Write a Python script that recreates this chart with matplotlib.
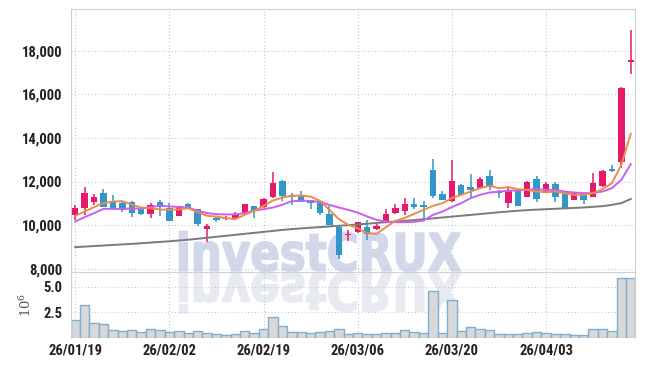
import os
import numpy as np
import matplotlib
matplotlib.use('Agg')
import matplotlib.pyplot as plt
from matplotlib import font_manager
from matplotlib.font_manager import FontProperties
from matplotlib.textpath import TextPath
from matplotlib.patches import PathPatch
import matplotlib.transforms as mtransforms

# Daily candles (KRW)
opens = [10465, 10774, 11078, 11480, 11080, 11030, 11080, 10775, 10510, 11080,
         10800, 10430, 10970, 10740, 9806, 10340, 10300, 10340, 10500, 10880,
         10820, 11310, 12030, 11390, 11355, 11140, 11110, 10510, 9926, 9530,
         9668, 9899, 9806, 10111, 10544, 10664, 10972, 10926, 12539, 11433,
         11124, 11848, 11742, 11696, 12263, 11571, 11032, 11560, 11309, 12124,
         11539, 11894, 11557, 11157, 11433, 11309, 11816, 12553, 12876, 17500]
closes = [10774, 11465, 11295, 10850, 10800, 10700, 10570, 10510, 10925, 10820,
          10200, 10880, 10775, 10050, 9959, 10235, 10320, 10465, 10970, 10650,
          11200, 11955, 11355, 11310, 11080, 11005, 10545, 10005, 8622, 9560,
          10129, 9590, 9959, 10512, 10788, 10972, 10834, 10820, 11355, 11157,
          12032, 11387, 11618, 12111, 11802, 11465, 11618, 10890, 11986, 11203,
          11894, 11309, 10802, 11511, 11157, 11926, 12493, 12493, 16304, 17560]
highs = [10940, 11742, 11420, 11650, 11370, 11100, 11125, 10800, 11005, 11160,
         11030, 10900, 11000, 10760, 10050, 10420, 10420, 10620, 10990, 10900,
         11260, 12430, 12060, 11465, 11570, 11170, 11130, 10880, 9950, 9774,
         10150, 10235, 10050, 10728, 10972, 11235, 11263, 11124, 13032, 11570,
         12968, 11900, 12355, 12230, 12507, 11600, 11802, 11660, 12010, 12263,
         12000, 12000, 11580, 11540, 11450, 12387, 12539, 12770, 16330, 18959]
lows = [10235, 10470, 10930, 10820, 10780, 10600, 10390, 10450, 10340, 10420,
        10180, 10400, 10750, 9970, 9207, 10150, 10250, 10320, 10480, 10310,
        10800, 11250, 11110, 10925, 11060, 10755, 10450, 9990, 8424, 9267,
        9650, 9313, 9790, 10090, 10530, 10470, 10760, 10235, 11235, 11130,
        11078, 11360, 11235, 11650, 11618, 11235, 10774, 10870, 11290, 11051,
        11520, 11078, 10728, 11140, 10972, 11290, 11760, 12450, 12617, 16917]

# moving averages
ma_short = [10426, 10623, 10825, 11009, 11082, 11100, 10944, 10807, 10779, 10720,
            10700, 10720, 10779, 10595, 10426, 10394, 10320, 10274, 10472, 10655,
            10885, 11128, 11266, 11344, 11357, 11311, 11114, 10701, 10274, 10012,
            9861, 9631, 9599, 9907, 10196, 10330, 10520, 10701, 10885, 11009,
            11240, 11390, 11541, 11697, 11803, 11697, 11743, 11650, 11619, 11541,
            11513, 11541, 11468, 11390, 11390, 11468, 11651, 11927, 12767, 14190]
ma_mid = [10164, 10366, 10550, 10747, 10747, 10747, 10760, 10760, 10825, 10885,
          10860, 10830, 10807, 10655, 10550, 10504, 10490, 10490, 10550, 10669,
          10733, 10807, 10930, 11100, 11120, 11110, 11060, 10930, 10807, 10700,
          10570, 10400, 10240, 10160, 10136, 10136, 10150, 10210, 10472, 10623,
          10825, 11009, 11238, 11390, 11495, 11541, 11573, 11600, 11619, 11651,
          11619, 11619, 11541, 11495, 11468, 11468, 11541, 11697, 12078, 12799]
ma_long = [8990, 9015, 9040, 9065, 9090, 9115, 9140, 9170, 9200, 9230,
           9260, 9295, 9330, 9375, 9420, 9465, 9510, 9555, 9600, 9645,
           9690, 9735, 9780, 9820, 9850, 9880, 9910, 9940, 9970, 10000,
           10030, 10065, 10100, 10135, 10165, 10200, 10230, 10270, 10310, 10350,
           10390, 10430, 10470, 10510, 10550, 10590, 10625, 10660, 10690, 10710,
           10730, 10750, 10770, 10790, 10810, 10840, 10870, 10930, 11010, 11200]

# volume in millions of shares
volume_m = [1.72, 3.18, 1.42, 1.33, 0.74, 0.67, 0.74, 0.54, 0.84, 0.74,
            0.58, 0.64, 0.45, 0.64, 0.45, 0.35, 0.25, 0.35, 0.64, 0.45,
            0.84, 2.01, 1.13, 0.54, 0.54, 0.45, 0.58, 0.67, 0.84, 0.35,
            0.45, 0.35, 0.35, 0.45, 0.45, 0.74, 0.58, 0.45, 4.55, 0.45,
            3.67, 0.64, 1.03, 0.84, 0.74, 0.35, 0.35, 0.35, 0.45, 0.58,
            0.45, 0.35, 0.35, 0.25, 0.25, 0.84, 0.84, 0.64, 5.82, 5.82]

tick_pos = [0, 10, 20, 30, 40, 50]
tick_labels = ['26/01/19', '26/02/02', '26/02/19', '26/03/06', '26/03/20', '26/04/03']

UP = '#e6196b'
DOWN = '#2f97c9'
GRID = '#c6c9db'
SPINE = '#d0d0d0'


def pick_font():
    # prefer a narrow bold face for the axis labels
    prefs = ['RobotoCondensed-Bold', 'RobotoCondensed-SemiBold', 'RobotoCondensed-Medium',
             'LiberationSansNarrow-Bold', 'DejaVuSansCondensed-Bold']
    files = [f.fname for f in font_manager.fontManager.ttflist]
    for p in prefs:
        for fn in files:
            if os.path.basename(fn).startswith(p):
                return FontProperties(fname=fn, size=10.5)
    return FontProperties(family='Roboto', weight='bold', size=9)


tick_font = pick_font()

x = np.arange(len(opens))
o = np.array(opens); c = np.array(closes)
colors = [UP if cc >= oo else DOWN for oo, cc in zip(o, c)]

fig = plt.figure(figsize=(6.45, 3.66), dpi=100)
L, W = 71 / 645, 564 / 645
ax = fig.add_axes([L, 94 / 366, W, 262.7 / 366])
axv = fig.add_axes([L, 28 / 366, W, 66 / 366], sharex=ax)
for a in (ax, axv):
    a.set_facecolor('none')
    a.set_axisbelow(True)
    a.tick_params(length=0, colors='#222222')

# watermark with its reflection
tp = TextPath((0, 0), 'investCRUX', size=100, prop=FontProperties(family='DejaVu Sans', weight='bold'))
ext = tp.get_extents()
sx, sy = 2.81 / ext.width, 0.40 / ext.height
base = mtransforms.Affine2D().translate(-ext.x0, -ext.y0)
t_main = base + mtransforms.Affine2D().scale(sx, sy).translate(1.795, 0.945) + fig.dpi_scale_trans
t_refl = base + mtransforms.Affine2D().scale(sx, -sy).translate(1.795, 0.935) + fig.dpi_scale_trans
fig.add_artist(PathPatch(tp, transform=t_main, facecolor='#d2d8ea', edgecolor='#d2d8ea', lw=1.2, zorder=-1))
fig.add_artist(PathPatch(tp, transform=t_refl, facecolor='#e8eaf1', edgecolor='#e8eaf1', lw=1.2, zorder=-1))

# candles
ax.vlines(x, lows, highs, colors=colors, lw=1.1, zorder=2)
body = np.maximum(np.abs(c - o), 45)
ax.bar(x, body, bottom=np.minimum(o, c), width=0.68, color=colors, zorder=3)

ax.plot(x, ma_long, color='#7a7a7a', lw=1.4, zorder=4)
ax.plot(x, ma_mid, color='#c95ff0', lw=1.4, zorder=4)
ax.plot(x, ma_short, color='#f08a4b', lw=1.4, zorder=4)

ax.set_xlim(-0.45, 59.45)
ax.set_ylim(7850, 19900)
ax.set_yticks(range(8000, 18001, 2000))
ax.set_yticklabels([f'{v:,}' for v in range(8000, 18001, 2000)])
ax.grid(True, color=GRID, linestyle=(0, (1, 2)), lw=0.8)
ax.tick_params(axis='x', labelbottom=False)
ax.tick_params(axis='y', pad=6)
for s in ('left', 'top', 'right', 'bottom'):
    ax.spines[s].set_color(SPINE)

# volume
axv.bar(x, volume_m, width=1.0, color='#d8d8d8', edgecolor='#7cafd4', lw=1, zorder=2)
axv.set_ylim(0, 6.43)
axv.set_yticks([2.5, 5.0])
axv.set_yticklabels(['2.5', '5.0'])
axv.set_xticks(tick_pos)
axv.set_xticklabels(tick_labels)
axv.grid(True, color=GRID, linestyle=(0, (1, 2)), lw=0.8)
axv.tick_params(axis='y', pad=6)
axv.tick_params(axis='x', pad=4)
axv.spines['top'].set_visible(False)
axv.spines['bottom'].set_visible(False)
axv.spines['left'].set_color(SPINE)
axv.spines['right'].set_color(SPINE)
axv.set_ylabel(r'$10^6$', color='#555555', fontsize=9.5, family='serif', math_fontfamily='dejavuserif')
axv.yaxis.set_label_coords(-0.066, 0.5)

for lab in ax.get_yticklabels() + axv.get_yticklabels() + axv.get_xticklabels():
    lab.set_fontproperties(tick_font)
    lab.set_color('#222222')

fig.savefig('out.png', dpi=100)
